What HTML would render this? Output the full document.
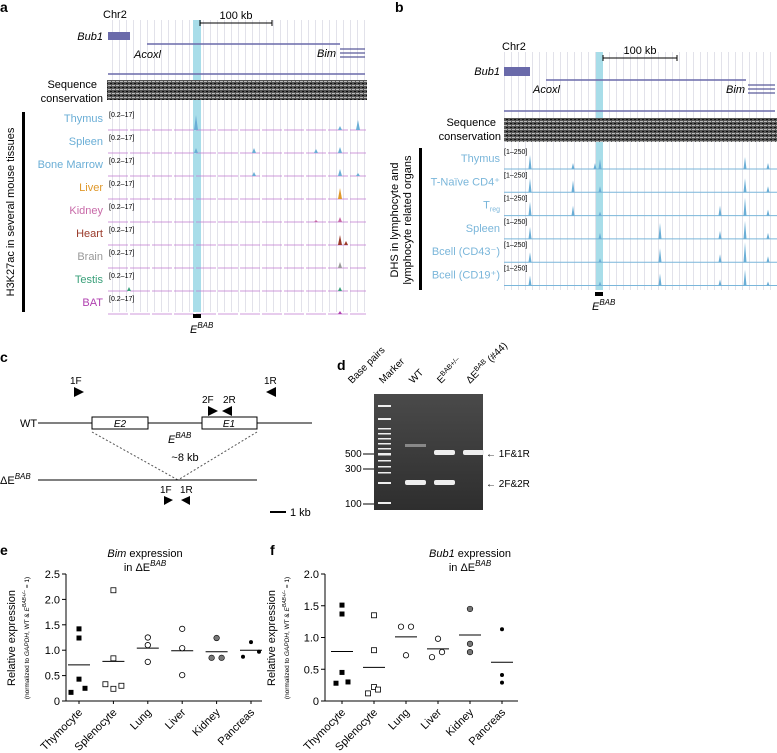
<!DOCTYPE html>
<html><head><meta charset="utf-8"><style>
body{margin:0;background:#fff}
svg{display:block;font-family:"Liberation Sans",Arial,sans-serif}
</style></head><body>
<svg id="fig" width="777" height="753" viewBox="0 0 777 753">
<defs>
<pattern id="grid" width="7" height="10" patternUnits="userSpaceOnUse"><line x1="0.5" y1="0" x2="0.5" y2="10" stroke="#e2e2ea" stroke-width="1"/></pattern>
<pattern id="cons" width="4" height="4" patternUnits="userSpaceOnUse"><rect width="4" height="4" fill="#555"/><rect x="0" y="1" width="3" height="1" fill="#bbb"/><rect x="2" y="3" width="2" height="1" fill="#111"/></pattern>
<linearGradient id="gel" x1="0" y1="0" x2="0" y2="1"><stop offset="0" stop-color="#4a4a4a"/><stop offset="1" stop-color="#2e2e2e"/></linearGradient>
</defs>

<!-- Panel a -->
<g>
<text x="0" y="12" font-size="14" font-weight="bold">a</text>
<text x="103" y="18" font-size="11">Chr2</text>
<rect x="107" y="20" width="260" height="292" fill="url(#grid)"/>
<rect x="193" y="20" width="8" height="292" fill="#a8dde9"/>
<line x1="200" y1="23" x2="272" y2="23" stroke="#000"/><line x1="200" y1="20" x2="200" y2="26" stroke="#000"/><line x1="272" y1="20" x2="272" y2="26" stroke="#000"/>
<text x="236" y="19" font-size="11" text-anchor="middle">100 kb</text>
<text x="103" y="40" font-size="11" font-style="italic" text-anchor="end">Bub1</text>
<rect x="108" y="32" width="22" height="8" fill="#6a6aaa"/>
<line x1="147" y1="44" x2="340" y2="44" stroke="#6a6aaa" stroke-width="1.5"/>
<text x="134" y="58" font-size="11" font-style="italic">Acoxl</text>
<text x="336" y="57" font-size="11" font-style="italic" text-anchor="end">Bim</text>
<g stroke="#5a5a9a" stroke-width="1.3"><line x1="340" y1="49" x2="365" y2="49"/><line x1="340" y1="53" x2="365" y2="53"/><line x1="340" y1="57" x2="365" y2="57"/></g>
<line x1="108" y1="74" x2="365" y2="74" stroke="#6a6aaa" stroke-width="1.5"/>
<text x="97" y="88" font-size="11" text-anchor="end">Sequence</text>
<text x="103" y="102" font-size="11" text-anchor="end">conservation</text>
<rect x="107" y="80" width="260" height="20" fill="url(#cons)"/>
<rect x="22" y="112" width="3" height="200" fill="#000"/>
<text transform="translate(14,212) rotate(-90)" font-size="11" text-anchor="middle">H3K27ac in several mouse tissues</text>
<g id="tracksA"></g>
<rect x="193" y="314" width="8" height="4" fill="#000"/>
<text x="190" y="333" font-size="11" font-style="italic">E<tspan font-size="8" dy="-5">BAB</tspan></text>
</g>

<!-- Panel b -->
<g>
<text x="395" y="12" font-size="14" font-weight="bold">b</text>
<text x="502" y="50" font-size="11">Chr2</text>
<rect x="504" y="52" width="273" height="238" fill="url(#grid)"/>
<rect x="596" y="52" width="7" height="238" fill="#a8dde9"/>
<line x1="603" y1="58" x2="677" y2="58" stroke="#000"/><line x1="603" y1="55" x2="603" y2="61" stroke="#000"/><line x1="677" y1="55" x2="677" y2="61" stroke="#000"/>
<text x="640" y="54" font-size="11" text-anchor="middle">100 kb</text>
<text x="500" y="75" font-size="11" font-style="italic" text-anchor="end">Bub1</text>
<rect x="504" y="67" width="26" height="9" fill="#6a6aaa"/>
<line x1="546" y1="80" x2="746" y2="80" stroke="#6a6aaa" stroke-width="1.5"/>
<text x="533" y="93" font-size="11" font-style="italic">Acoxl</text>
<text x="745" y="93" font-size="11" font-style="italic" text-anchor="end">Bim</text>
<g stroke="#5a5a9a" stroke-width="1.3"><line x1="748" y1="85" x2="775" y2="85"/><line x1="748" y1="89" x2="775" y2="89"/><line x1="748" y1="93" x2="775" y2="93"/></g>
<line x1="504" y1="111" x2="775" y2="111" stroke="#6a6aaa" stroke-width="1.5"/>
<text x="496" y="126" font-size="11" text-anchor="end">Sequence</text>
<text x="501" y="140" font-size="11" text-anchor="end">conservation</text>
<rect x="504" y="118" width="273" height="24" fill="url(#cons)"/>
<rect x="419" y="148" width="3" height="142" fill="#000"/>
<text transform="translate(398,220) rotate(-90)" font-size="11" text-anchor="middle">DHS in lymphocyte and</text>
<text transform="translate(411,220) rotate(-90)" font-size="11" text-anchor="middle">lymphocyte related organs</text>
<g id="tracksB"></g>
<rect x="595" y="292" width="8" height="4" fill="#000"/>
<text x="592" y="310" font-size="11" font-style="italic">E<tspan font-size="8" dy="-5">BAB</tspan></text>
</g>

<!-- Panel c -->
<g>
<text x="0" y="362" font-size="14" font-weight="bold">c</text>
<text x="70" y="384" font-size="10">1F</text><polygon points="74,387 74,397 84,392" fill="#000"/>
<text x="264" y="384" font-size="10">1R</text><polygon points="276,387 276,397 266,392" fill="#000"/>
<text x="202" y="403" font-size="10">2F</text><polygon points="208,406 208,416 218,411" fill="#000"/>
<text x="223" y="403" font-size="10">2R</text><polygon points="232,406 232,416 222,411" fill="#000"/>
<text x="20" y="427" font-size="11">WT</text>
<line x1="38" y1="423" x2="312" y2="423" stroke="#000"/>
<rect x="92" y="417" width="56" height="12" fill="#fff" stroke="#000"/>
<text x="120" y="427" font-size="10" font-style="italic" text-anchor="middle">E2</text>
<rect x="202" y="417" width="55" height="12" fill="#fff" stroke="#000"/>
<text x="229" y="427" font-size="10" font-style="italic" text-anchor="middle">E1</text>
<g stroke="#555" stroke-dasharray="2,2"><line x1="92" y1="432" x2="178" y2="480"/><line x1="257" y1="432" x2="178" y2="480"/></g>
<text x="168" y="443" font-size="11" font-style="italic">E<tspan font-size="8" dy="-5">BAB</tspan></text>
<text x="185" y="461" font-size="11" text-anchor="middle">~8 kb</text>
<text x="0" y="484" font-size="11">ΔE<tspan font-size="8" dy="-5" font-style="italic">BAB</tspan></text>
<line x1="38" y1="480" x2="257" y2="480" stroke="#000"/>
<text x="160" y="493" font-size="10">1F</text><text x="180" y="493" font-size="10">1R</text>
<polygon points="164,496 164,505 173,500" fill="#000"/><polygon points="190,496 190,505 181,500" fill="#000"/>
<line x1="270" y1="512" x2="286" y2="512" stroke="#000" stroke-width="2"/>
<text x="290" y="516" font-size="11">1 kb</text>
</g>

<!-- Panel d -->
<g>
<text x="337" y="370" font-size="14" font-weight="bold">d</text>
<text transform="translate(352,384) rotate(-45)" font-size="10">Base pairs</text>
<text transform="translate(383,384) rotate(-45)" font-size="10">Marker</text>
<text transform="translate(413,384) rotate(-45)" font-size="10">WT</text>
<text transform="translate(441,384) rotate(-45)" font-size="10">E<tspan font-size="7" dy="-4">BAB+/–</tspan></text>
<text transform="translate(470,384) rotate(-45)" font-size="10">ΔE<tspan font-size="7" dy="-4">BAB</tspan><tspan dy="4"> (#44)</tspan></text>
<rect x="374" y="394" width="109" height="116" fill="url(#gel)"/>
<g fill="#eee"><rect x="378" y="405" width="13" height="2"/><rect x="378" y="418" width="13" height="2"/><rect x="378" y="428" width="13" height="1.5"/><rect x="378" y="433" width="13" height="1.5"/><rect x="378" y="438" width="13" height="1.5"/><rect x="378" y="443" width="13" height="1.5"/><rect x="378" y="448" width="13" height="1.5"/><rect x="378" y="453" width="13" height="2.5"/><rect x="378" y="460" width="13" height="1.5"/><rect x="378" y="466" width="13" height="1.5"/><rect x="378" y="472" width="13" height="1.5"/><rect x="378" y="482" width="13" height="2"/><rect x="378" y="502" width="13" height="2"/>
<rect x="405" y="480" width="21" height="5" rx="2"/><rect x="434" y="450" width="21" height="5" rx="2"/><rect x="434" y="480" width="21" height="5" rx="2"/><rect x="463" y="450" width="21" height="5" rx="2"/></g>
<rect x="405" y="444" width="21" height="3" fill="#888"/>
<text x="345" y="457" font-size="10">500</text><line x1="363" y1="454" x2="374" y2="454" stroke="#000"/>
<text x="345" y="472" font-size="10">300</text><line x1="363" y1="469" x2="374" y2="469" stroke="#000"/>
<text x="345" y="507" font-size="10">100</text><line x1="363" y1="504" x2="374" y2="504" stroke="#000"/>
<text x="486" y="457" font-size="10">← 1F&amp;1R</text>
<text x="486" y="487" font-size="10">← 2F&amp;2R</text>
</g>

<!-- Panels e,f -->
<g>
<text x="0" y="555" font-size="14" font-weight="bold">e</text>
<text x="145" y="557" font-size="11" text-anchor="middle"><tspan font-style="italic">Bim</tspan> expression</text>
<text x="145" y="571" font-size="11" text-anchor="middle">in ΔE<tspan font-size="8" dy="-5" font-style="italic">BAB</tspan></text>
<text transform="translate(15,638) rotate(-90)" font-size="11" text-anchor="middle">Relative expression</text>
<text transform="translate(29,638) rotate(-90)" font-size="6.5" text-anchor="middle">(normalized to <tspan font-style="italic">GAPDH</tspan>, WT &amp; <tspan font-style="italic">E</tspan><tspan font-size="5" dy="-3" font-style="italic">BAB+/–</tspan><tspan dy="3"> = 1)</tspan></text>
<g id="chartE"></g>
</g>
<g>
<text x="270" y="555" font-size="14" font-weight="bold">f</text>
<text x="470" y="557" font-size="11" text-anchor="middle"><tspan font-style="italic">Bub1</tspan> expression</text>
<text x="470" y="571" font-size="11" text-anchor="middle">in ΔE<tspan font-size="8" dy="-5" font-style="italic">BAB</tspan></text>
<text transform="translate(275,638) rotate(-90)" font-size="11" text-anchor="middle">Relative expression</text>
<text transform="translate(289,638) rotate(-90)" font-size="6.5" text-anchor="middle">(normalized to <tspan font-style="italic">GAPDH</tspan>, WT &amp; <tspan font-style="italic">E</tspan><tspan font-size="5" dy="-3" font-style="italic">BAB+/–</tspan><tspan dy="3"> = 1)</tspan></text>
<g id="chartF"></g>
</g>
</svg>
<script>
const NS="http://www.w3.org/2000/svg";
function mk(p,t,a){const e=document.createElementNS(NS,t);for(const k in a)e.setAttribute(k,a[k]);p.appendChild(e);return e;}

// Panel a tracks
const tissuesA=["Thymus","Spleen","Bone Marrow","Liver","Kidney","Heart","Brain","Testis","BAT"];
const colorsA=["#6aaed6","#6aaed6","#6aaed6","#e0982a","#c86aa8","#9a3a2a","#999","#3aa07a","#b040b0"];
const peaksA=[[[196,15],[358,10],[340,4]],[[196,5],[254,5],[340,6],[316,4]],[[254,4],[340,7],[358,3]],[[340,11]],[[340,5],[316,2]],[[340,10],[346,4]],[[340,6]],[[129,4],[340,4]],[[340,3]]];
// Panel b tracks
const tissuesB=["Thymus","T-Naïve CD4⁺","T_reg","Spleen","Bcell (CD43⁻)","Bcell (CD19⁺)"];
const peaksB=[[[530,14],[573,6],[595,6],[600,10],[745,12],[768,6]],[[530,14],[573,12],[600,6],[745,14],[768,6]],[[530,14],[573,10],[600,4],[745,18],[720,10],[768,6]],[[530,12],[600,6],[660,16],[745,18],[720,8],[768,6]],[[530,10],[600,4],[660,14],[745,20],[720,8],[768,6]],[[530,10],[600,4],[660,12],[745,16],[720,6],[768,4]]];

const gA=document.getElementById('tracksA');
tissuesA.forEach((t,i)=>{
  const y=118+i*23;
  const tx=mk(gA,'text',{x:103,y:y+4,'font-size':11,'text-anchor':'end',fill:colorsA[i]});tx.textContent=t;
  
  
  const r=mk(gA,'text',{x:109,y:y-1,'font-size':7});r.textContent='[0.2–17]';
  mk(gA,'line',{x1:108,y1:y+12,x2:366,y2:y+12,stroke:'#c07ad0','stroke-width':0.8,'stroke-dasharray':'20,2'});
  peaksA[i].forEach(p=>{const pk=mk(gA,'polygon',{points:`${p[0]-2},${y+12} ${p[0]},${y+12-p[1]} ${p[0]+2},${y+12}`,fill:colorsA[i]});
    
    });
});
const gB=document.getElementById('tracksB');
tissuesB.forEach((t,i)=>{
  const y=158+i*23.3;
  const tx=mk(gB,'text',{x:500,y:y+4,'font-size':11,'text-anchor':'end',fill:'#7ab6da'});
  if(t==="T_reg"){tx.innerHTML='T<tspan font-size="7" dy="3">reg</tspan>';}else tx.textContent=t;
  
  
  const r=mk(gB,'text',{x:504,y:y-4,'font-size':7});r.textContent='[1–250]';
  mk(gB,'line',{x1:504,y1:y+11,x2:777,y2:y+11,stroke:'#7ab6da','stroke-width':1});
  peaksB[i].forEach(p=>{const pk=mk(gB,'polygon',{points:`${p[0]-1.5},${y+11} ${p[0]},${y+11-p[1]} ${p[0]+1.5},${y+11}`,fill:'#6aaed6'});
    
    });
});

// Charts e,f data
const categories=["Thymocyte","Splenocyte","Lung","Liver","Kidney","Pancreas"];
const markerTypes=["sqFill","sqOpen","circOpen","circOpen","circGray","dot"];
const bimValues=[[1.42,1.24,0.43,0.17,0.25],[2.18,0.84,0.33,0.24,0.30],[1.25,1.10,0.77],[1.42,1.04,0.51],[1.24,0.85,0.85],[1.16,0.87,0.97]];
const bimMeans=[0.71,0.78,1.04,0.99,0.97,1.00];
const bimTicks=[0,0.5,1.0,1.5,2.0,2.5];
const bub1Values=[[1.51,1.37,0.45,0.28,0.30],[1.35,0.80,0.22,0.12,0.18],[1.17,1.17,0.72],[0.98,0.69,0.77],[1.45,0.90,0.77],[1.13,0.41,0.29]];
const bub1Means=[0.78,0.53,1.01,0.82,1.04,0.61];
const bub1Ticks=[0,0.5,1.0,1.5,2.0];
// jitter offsets for overlapping points (layout, not data)
const offsE=[[0,0,0,-8,6],[0,0,-8,0,8],[0,0,0],[0,0,0],[0,-5,5],[0,-8,8]];
const offsF=[[0,0,0,-6,6],[0,0,0,-6,4],[-5,5,0],[0,-6,4],[0,0,0],[0,0,0]];

function chart(id,x0,x1,cx,yMax,vals,means,ticks,offs){
  const g=document.getElementById(id);
  const y0=701,yTop=574;
  const ys=v=>y0-(v/yMax)*(y0-yTop);
  mk(g,'line',{x1:x0,y1:yTop,x2:x0,y2:y0,stroke:'#000'});
  mk(g,'line',{x1:x0,y1:y0,x2:x1,y2:y0,stroke:'#000'});
  ticks.forEach(t=>{mk(g,'line',{x1:x0-4,y1:ys(t),x2:x0,y2:ys(t),stroke:'#000'});
    const tx=mk(g,'text',{x:x0-6,y:ys(t)+4,'font-size':11,'text-anchor':'end'});tx.textContent=t===0?'0':t.toFixed(1);});
  categories.forEach((c,i)=>{
    const x=cx(i);
    mk(g,'line',{x1:x,y1:y0,x2:x,y2:y0+3,stroke:'#000'});
    const tx=mk(g,'text',{'font-size':11,'text-anchor':'end',transform:`translate(${x+4},${y0+12}) rotate(-45)`});tx.textContent=c;
    
    
    const m=mk(g,'line',{x1:x-11,y1:ys(means[i]),x2:x+11,y2:ys(means[i]),stroke:'#000','stroke-width':1});
    
    
    vals[i].forEach((v,j)=>{
      const px=x+(offs[i][j]||0),py=ys(v),t=markerTypes[i];let e;
      if(t==='sqFill')e=mk(g,'rect',{x:px-2.5,y:py-2.5,width:5,height:5,fill:'#000'});
      else if(t==='sqOpen')e=mk(g,'rect',{x:px-2.5,y:py-2.5,width:5,height:5,fill:'#fff',stroke:'#000','stroke-width':0.8});
      else if(t==='circOpen')e=mk(g,'circle',{cx:px,cy:py,r:2.7,fill:'#fff',stroke:'#000','stroke-width':0.8});
      else if(t==='circGray')e=mk(g,'circle',{cx:px,cy:py,r:2.8,fill:'#777',stroke:'#000','stroke-width':0.6});
      else e=mk(g,'circle',{cx:px,cy:py,r:2,fill:'#000'});
      
      
    });
  });
}
chart('chartE',66,262,i=>79+i*34.4,2.5,bimValues,bimMeans,bimTicks,offsE);
chart('chartF',325,518,i=>342+i*32,2.0,bub1Values,bub1Means,bub1Ticks,offsF);
</script>
</body></html>
